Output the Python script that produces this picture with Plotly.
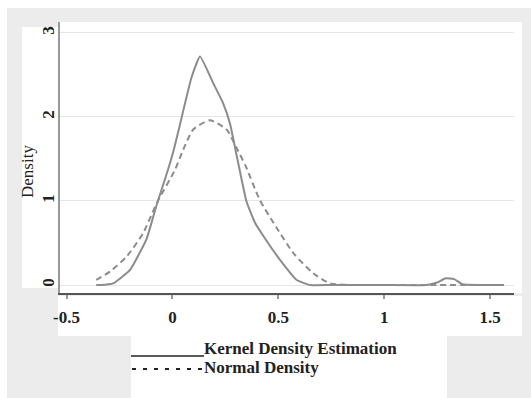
import plotly.graph_objects as go

# ---- data ----
kde_x = [-0.36, -0.34, -0.28, -0.20, -0.122, -0.075, -0.03, 0.0, 0.03, 0.06, 0.09, 0.13,
         0.193, 0.24, 0.272, 0.305, 0.35, 0.39, 0.43, 0.508, 0.587, 0.65, 0.75, 1.0, 1.2,
         1.25, 1.29, 1.33, 1.37, 1.45, 1.566]
kde_y = [0.0, 0.0, 0.02, 0.18, 0.55, 0.95, 1.30, 1.55, 1.85, 2.17, 2.47, 2.72,
         2.40, 2.16, 1.92, 1.52, 0.99, 0.74, 0.58, 0.30, 0.06, 0.0, 0.0, 0.0, 0.0,
         0.03, 0.08, 0.07, 0.01, 0.0, 0.0]

norm_x = [-0.36, -0.295, -0.216, -0.138, -0.075, 0.012, 0.051, 0.098, 0.177, 0.256,
          0.303, 0.345, 0.413, 0.49, 0.571, 0.665, 0.744, 0.85, 1.0, 1.25, 1.566]
norm_y = [0.06, 0.16, 0.34, 0.62, 0.97, 1.37, 1.61, 1.85, 1.96, 1.85,
          1.63, 1.42, 1.01, 0.69, 0.38, 0.14, 0.02, 0.0, 0.0, 0.0, 0.0]

x_ticks = [-0.5, 0, 0.5, 1, 1.5]
x_tick_labels = ["-0.5", "0", "0.5", "1", "1.5"]
y_ticks = [0, 1, 2, 3]
y_tick_labels = ["0", "1", "2", "3"]
legend_labels = ["Kernel Density Estimation", "Normal Density"]
y_title = "Density"

# ---- layout geometry (pixels) ----
W, H = 531, 398
L, R, T, B = 60, 17, 22, 105
PW, PH = W - L - R, H - T - B


def px(x):
    return (x - L) / PW


def py(y):
    return (H - B - y) / PH


CURVE = "#8c8c8c"
SERIF = "Liberation Serif, Times New Roman, serif"

fig = go.Figure()
fig.add_trace(go.Scatter(x=kde_x, y=kde_y, mode="lines", name=legend_labels[0],
                         line=dict(color=CURVE, width=2, shape="spline", smoothing=0.4)))
fig.add_trace(go.Scatter(x=norm_x, y=norm_y, mode="lines", name=legend_labels[1],
                         line=dict(color=CURVE, width=2, dash="6px,4px", shape="spline", smoothing=0.6)))

shapes = []


def rect(x0, y0, x1, y1, color):
    shapes.append(dict(type="rect", xref="paper", yref="paper", layer="below",
                       x0=px(x0), x1=px(x1), y0=py(y1), y1=py(y0),
                       fillcolor=color, line=dict(width=0)))


rect(7, 8, 531, 398, "#ececec")
rect(22, 27, 60, 288, "white")
rect(60, 22, 522, 293, "white")
rect(58, 296, 522, 336, "white")
rect(131, 336, 447, 398, "white")

# legend keys
shapes.append(dict(type="line", xref="paper", yref="paper", x0=px(131), x1=px(204),
                   y0=py(356), y1=py(356), line=dict(color="#222", width=1.5)))
shapes.append(dict(type="line", xref="paper", yref="paper", x0=px(132), x1=px(204),
                   y0=py(369), y1=py(369), line=dict(color="#222", width=2, dash="4px,7px")))

annotations = [
    dict(text="<b>%s</b>" % legend_labels[0], xref="paper", yref="paper", x=px(202), y=py(348),
         xanchor="left", yanchor="middle", showarrow=False,
         font=dict(family=SERIF, size=17, color="#222")),
    dict(text="<b>%s</b>" % legend_labels[1], xref="paper", yref="paper", x=px(202), y=py(367),
         xanchor="left", yanchor="middle", showarrow=False,
         font=dict(family=SERIF, size=17, color="#222")),
    dict(text=y_title, xref="paper", yref="paper", x=px(27), y=py(172), textangle=-90,
         xanchor="center", yanchor="middle", showarrow=False,
         font=dict(family=SERIF, size=17, color="#222")),
]

fig.update_layout(
    width=W, height=H,
    margin=dict(l=L, r=R, t=T, b=B, pad=0),
    paper_bgcolor="white",
    plot_bgcolor="rgba(0,0,0,0)",
    showlegend=False,
    shapes=shapes,
    annotations=annotations,
    xaxis=dict(range=[-0.531, 1.613], tickvals=x_ticks,
               ticktext=["<b>%s</b>" % t for t in x_tick_labels],
               showgrid=False, zeroline=False, showline=True, linecolor="#555", linewidth=2,
               ticks="outside", ticklen=4, tickwidth=2, tickcolor="#999",
               ticklabelstandoff=4,
               tickfont=dict(family=SERIF, size=17, color="#222")),
    yaxis=dict(range=[-0.095, 3.13], tickvals=y_ticks,
               ticktext=["<b>%s</b>" % t for t in y_tick_labels], tickangle=-90,
               showgrid=True, gridcolor="#e6e6e6", gridwidth=1, zeroline=False,
               showline=True, linecolor="#999", linewidth=2, ticks="",
               ticklabelstandoff=-3,
               tickfont=dict(family=SERIF, size=17, color="#222")),
)

fig.write_html("out.html", config={"displayModeBar": False},
               post_script="document.body.style.margin='0px';")
